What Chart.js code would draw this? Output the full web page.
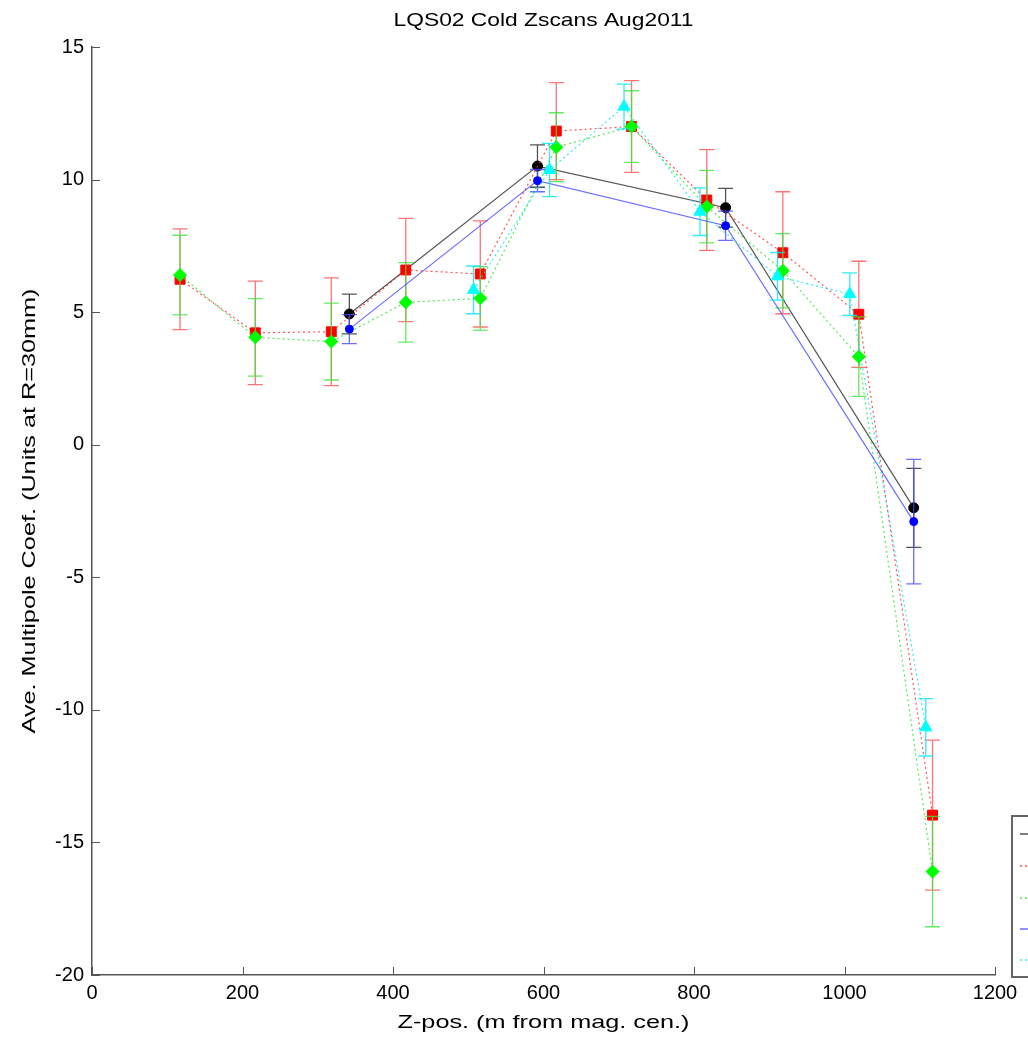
<!DOCTYPE html>
<html><head><meta charset="utf-8">
<script src="https://cdn.jsdelivr.net/npm/chart.js@4.4.1/dist/chart.umd.min.js"></script>
<style>html,body{margin:0;padding:0;background:#fff;overflow:hidden}canvas{display:block}</style>
</head><body>
<canvas id="c" width="1028" height="1038"></canvas>
<script>
const chartTitle = 'LQS02 Cold Zscans Aug2011';
const xTitle = 'Z-pos. (m from mag. cen.)';
const yTitle = 'Ave. Multipole Coef. (Units at R=30mm)';

const xTicks = [0, 200, 400, 600, 800, 1000, 1200];
const yTicks = [-20, -15, -10, -5, 0, 5, 10, 15];

const blackX = [342, 592, 842, 1092];
const blackY = [4.93, 10.51, 8.94, -2.38];
const blackErr = [0.75, 0.80, 0.73, 1.49];

const redX = [117, 217, 318, 417, 516, 617, 717, 817, 918, 1019, 1117];
const redY = [6.24, 4.22, 4.26, 6.59, 6.44, 11.83, 12.0, 9.23, 7.24, 4.92, -13.97];
const redErr = [1.9, 1.95, 2.03, 1.95, 2.0, 1.83, 1.73, 1.9, 2.3, 2.0, 2.83];

const greenX = [117, 217, 318, 417, 516, 617, 717, 817, 918, 1019, 1117];
const greenY = [6.40, 4.05, 3.89, 5.37, 5.52, 11.22, 12.0, 8.98, 6.56, 3.32, -16.1];
const greenErr = [1.5, 1.46, 1.45, 1.5, 1.2, 1.3, 1.35, 1.37, 1.4, 1.5, 2.08];

const blueX = [342, 592, 842, 1092];
const blueY = [4.36, 9.96, 8.26, -2.90];
const blueErr = [0.55, 0.42, 0.55, 2.35];

const cyanX = [507, 608, 707, 808, 911, 1007, 1108];
const cyanY = [5.84, 10.36, 12.75, 8.79, 6.35, 5.68, -10.66];
const cyanErr = [0.9, 1.0, 0.85, 0.9, 0.9, 0.8, 1.08];

const FONT = "'Liberation Sans', Arial, Helvetica, sans-serif";

function pts(xs, ys) { return xs.map((x, i) => ({x: x, y: ys[i]})); }

function series(xs, ys, errs, o) {
  return {
    data: pts(xs, ys), err: errs, errColor: o.errColor,
    showLine: true, borderColor: o.line, borderWidth: 1.2, borderDash: o.dash || [],
    pointStyle: o.style, pointRadius: o.r, pointBackgroundColor: o.fill, pointBorderColor: o.fill,
    pointBorderWidth: 1, order: o.order, fill: false, tension: 0
  };
}

const datasets = [
  series(blackX, blackY, blackErr, {line: 'rgba(40,40,40,0.8)', fill: '#000', errColor: 'rgba(40,40,40,0.8)', style: 'circle', r: 5, order: 5}),
  series(redX, redY, redErr, {line: 'rgba(255,40,40,0.8)', dash: [2, 3], fill: '#f00', errColor: 'rgba(255,70,70,0.75)', style: 'rect', r: 7, order: 4}),
  series(greenX, greenY, greenErr, {line: 'rgba(40,230,40,0.8)', dash: [2, 3], fill: '#0f0', errColor: 'rgba(60,230,60,0.8)', style: 'rectRot', r: 6.5, order: 3}),
  series(blueX, blueY, blueErr, {line: 'rgba(60,60,255,0.75)', fill: '#00f', errColor: 'rgba(70,70,255,0.8)', style: 'circle', r: 4, order: 2}),
  series(cyanX, cyanY, cyanErr, {line: 'rgba(0,230,240,0.8)', dash: [2, 3], fill: '#0ff', errColor: 'rgba(0,230,240,0.8)', style: 'triangle', r: 7, order: 1})
];

const errPlugin = {
  id: 'errbars',
  beforeDatasetDraw(chart, args) {
    const ds = chart.data.datasets[args.index];
    const ctx = chart.ctx, xs = chart.scales.x, ys = chart.scales.y;
    ctx.save();
    ctx.strokeStyle = ds.errColor;
    ctx.lineWidth = 1.3;
    ds.data.forEach((p, j) => {
      const e = ds.err[j];
      const px = xs.getPixelForValue(p.x);
      const t = ys.getPixelForValue(p.y + e), b = ys.getPixelForValue(p.y - e);
      ctx.beginPath();
      ctx.moveTo(px, t); ctx.lineTo(px, b);
      ctx.moveTo(px - 7.5, t); ctx.lineTo(px + 7.5, t);
      ctx.moveTo(px - 7.5, b); ctx.lineTo(px + 7.5, b);
      ctx.stroke();
    });
    ctx.restore();
  }
};

function wideText(ctx, txt, x, y, targetW) {
  const w = ctx.measureText(txt).width;
  const k = targetW / w;
  ctx.save();
  ctx.translate(x, y);
  ctx.scale(k, 1);
  ctx.fillText(txt, 0, 0);
  ctx.restore();
}

const decoPlugin = {
  id: 'deco',
  afterDraw(chart) {
    const ctx = chart.ctx, xs = chart.scales.x, ys = chart.scales.y, a = chart.chartArea;
    ctx.save();
    // inward ticks
    ctx.strokeStyle = '#555'; ctx.lineWidth = 1;
    ctx.beginPath();
    yTicks.forEach(v => { const py = Math.round(ys.getPixelForValue(v)) + 0.5; ctx.moveTo(a.left, py); ctx.lineTo(a.left + 8, py); });
    xTicks.forEach(v => { const px = Math.round(xs.getPixelForValue(v)) + 0.5; ctx.moveTo(px, a.bottom); ctx.lineTo(px, a.bottom - 8); });
    ctx.stroke();
    // texts
    ctx.fillStyle = '#000';
    ctx.font = '19px ' + FONT;
    ctx.textAlign = 'center'; ctx.textBaseline = 'middle';
    const cx = (a.left + a.right) / 2;
    wideText(ctx, chartTitle, cx, 21, 300);
    wideText(ctx, xTitle, cx, 1023, 292);
    ctx.translate(30, (a.top + a.bottom) / 2);
    ctx.rotate(-Math.PI / 2);
    wideText(ctx, yTitle, 0, 0, 445);
    ctx.restore();
    // legend (mostly off the right edge)
    ctx.save();
    ctx.strokeStyle = '#666'; ctx.lineWidth = 2;
    ctx.strokeRect(1012, 816, 200, 161);
    const rows = [834, 866, 898, 929, 960];
    chart.data.datasets.forEach((ds, i) => {
      ctx.beginPath();
      ctx.strokeStyle = ds.borderColor; ctx.lineWidth = 1.5;
      ctx.setLineDash(ds.borderDash);
      ctx.moveTo(1020, rows[i]); ctx.lineTo(1070, rows[i]);
      ctx.stroke();
    });
    ctx.restore();
  }
};

const tickFont = {family: FONT, size: 20};

new Chart(document.getElementById('c'), {
  type: 'scatter',
  data: {datasets: datasets},
  options: {
    responsive: false, animation: false, events: [],
    layout: {padding: {left: 0, right: 33, top: 47, bottom: 0}},
    plugins: {legend: {display: false}, title: {display: false}, tooltip: {enabled: false}},
    scales: {
      x: {
        type: 'linear', min: 0, max: 1200,
        afterBuildTicks: s => { s.ticks = xTicks.map(v => ({value: v})); },
        ticks: {font: tickFont, color: '#000', padding: 6, maxRotation: 0, callback: v => String(v)},
        grid: {display: true, drawOnChartArea: false, drawTicks: false},
        border: {display: true, color: '#555', width: 1.5},
        afterFit: s => { s.height = 63; }
      },
      y: {
        type: 'linear', min: -20, max: 15,
        afterBuildTicks: s => { s.ticks = yTicks.map(v => ({value: v})); },
        ticks: {font: tickFont, color: '#000', padding: 8, callback: v => String(v)},
        grid: {display: true, drawOnChartArea: false, drawTicks: false},
        border: {display: true, color: '#555', width: 1.5},
        afterFit: s => { s.width = 92; }
      }
    }
  },
  plugins: [errPlugin, decoPlugin]
});
</script>
</body></html>
